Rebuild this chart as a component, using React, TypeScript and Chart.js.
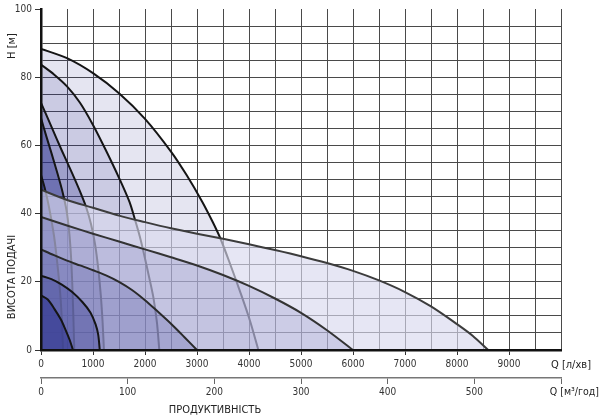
import React, { useEffect, useRef } from 'react';
import { Chart, registerables } from 'chart.js';

Chart.register(...registerables);

// Steep pump curves (Q in l/min, H in m)
const steepA: [number, number][] = [[0, 88.3], [500, 85.6], [1000, 81.2], [1500, 75.3], [2000, 67.8], [2500, 58.2], [2800, 51.3], [3100, 43.5], [3300, 37.6], [3450, 32.7], [3635, 25.3], [3827, 17.2], [4019, 8.6], [4180, 0]];
const steepB: [number, number][] = [[0, 83.7], [250, 80.8], [500, 77.3], [750, 72.5], [1000, 66], [1250, 58.5], [1500, 50.5], [1700, 43.5], [1808, 38.2], [1900, 33.3], [1968, 29], [2070, 22], [2160, 15.5], [2230, 8], [2275, 0]];
const steepC: [number, number][] = [[0, 72.5], [200, 65.5], [400, 58.5], [600, 51.8], [750, 46.5], [870, 41.8], [960, 37], [1040, 31], [1100, 24], [1150, 16], [1185, 8], [1210, 0]];
const steepD: [number, number][] = [[0, 68], [100, 62.8], [200, 57.8], [320, 51.6], [420, 46], [490, 41], [540, 35], [575, 28], [600, 20], [622, 10], [640, 0]];
const steepE: [number, number][] = [[0, 51.3], [70, 47.6], [150, 42.2], [250, 33.5], [320, 24.5], [375, 15.5], [405, 7.5], [423, 0]];

// Flat pump curves
const flatA: [number, number][] = [[0, 47], [500, 44], [1000, 41.7], [1500, 39.4], [2000, 37.5], [2500, 35.7], [3000, 34.1], [3500, 32.6], [4000, 31], [4500, 29.3], [5000, 27.5], [5500, 25.5], [6000, 23.2], [6500, 20.4], [7000, 17], [7500, 12.8], [8000, 7.6], [8300, 4.2], [8600, 0]];
const flatB: [number, number][] = [[0, 39], [500, 36.5], [1000, 34.1], [1500, 31.8], [2000, 29.5], [2500, 27.2], [3000, 24.8], [3500, 22], [4000, 18.8], [4500, 15.1], [5000, 10.9], [5500, 5.8], [6000, 0]];
const flatC: [number, number][] = [[0, 29.5], [250, 27.8], [500, 26.2], [750, 24.8], [1000, 23.4], [1250, 21.9], [1500, 20], [1750, 17.6], [2000, 14.6], [2250, 11.2], [2500, 7.7], [2750, 3.9], [3000, 0]];
const flatD: [number, number][] = [[0, 21.8], [200, 20.8], [400, 19.2], [600, 17], [800, 14], [950, 11], [1050, 7.5], [1100, 4.5], [1130, 0]];
const flatE: [number, number][] = [[0, 16], [130, 14.8], [260, 12], [380, 9], [470, 6], [550, 3], [615, 0]];

// Axis ticks
const yLabelValues = [0, 20, 40, 60, 80, 100];
const qLminLabels = [0, 1000, 2000, 3000, 4000, 5000, 6000, 7000, 8000, 9000];
const qM3hLabels = [0, 100, 200, 300, 400, 500];

const FONT = "'Liberation Sans Narrow', 'DejaVu Sans Condensed', sans-serif";

type Layer = { pts: [number, number][]; fill: string; line: string; width: number };

const layers: Layer[] = [
  { pts: steepA, fill: 'rgba(40,45,140,0.12)', line: '#151515', width: 2 },
  { pts: steepB, fill: 'rgba(40,45,140,0.14)', line: '#151515', width: 2 },
  { pts: steepC, fill: 'rgba(40,45,140,0.27)', line: '#151515', width: 2 },
  { pts: steepD, fill: 'rgba(40,45,140,0.40)', line: '#151515', width: 2 },
  { pts: steepE, fill: 'rgba(40,45,140,0.55)', line: '#151515', width: 2 },
  { pts: flatA, fill: 'rgba(216,216,238,0.65)', line: '#3c3c3c', width: 2 },
  { pts: flatB, fill: 'rgba(40,45,140,0.14)', line: '#333333', width: 2 },
  { pts: flatC, fill: 'rgba(40,45,140,0.20)', line: '#2a2a2a', width: 2 },
  { pts: flatD, fill: 'rgba(40,45,140,0.30)', line: '#151515', width: 2 },
  { pts: flatE, fill: 'rgba(40,45,140,0.50)', line: '#151515', width: 2 },
];

const textPlugin = {
  id: 'axisTexts',
  afterDraw(chart: any) {
    const c = chart.ctx;
    c.save();
    c.fillStyle = '#222';
    c.font = `11px ${FONT}`;
    c.textBaseline = 'middle';
    c.save();
    c.translate(12, 46);
    c.rotate(-Math.PI / 2);
    c.textAlign = 'center';
    c.fillText('H [м]', 0, 0);
    c.restore();
    c.save();
    c.translate(12, 277);
    c.rotate(-Math.PI / 2);
    c.textAlign = 'center';
    c.fillText('ВИСОТА ПОДАЧІ', 0, 0);
    c.restore();
    c.textAlign = 'right';
    c.fillText('Q [л/хв]', 591, 365);
    c.font = `10.5px ${FONT}`;
    c.fillText('Q [м³/год]', 599, 392);
    c.font = `11px ${FONT}`;
    c.textAlign = 'center';
    c.fillText('ПРОДУКТИВНІСТЬ', 215, 410);
    c.restore();
  },
};

export default function App() {
  const ref = useRef<HTMLCanvasElement>(null);
  useEffect(() => {
    document.body.style.margin = '0';
    const canvas = ref.current!;
    const datasets = layers.map((l, i) => ({
      data: l.pts.map(([x, y]) => ({ x, y })),
      fill: 'origin',
      backgroundColor: l.fill,
      borderColor: l.line,
      borderWidth: l.width,
      borderJoinStyle: 'round',
      pointRadius: 0,
      tension: 0.3,
      order: 100 - i,
    }));
    const chart = new Chart(canvas, {
      type: 'line',
      data: { datasets } as any,
      plugins: [textPlugin],
      options: {
        animation: false,
        responsive: false,
        devicePixelRatio: 1,
        layout: { padding: { top: 5, right: 39, left: 0, bottom: 0 } },
        plugins: { legend: { display: false }, tooltip: { enabled: false } },
        scales: {
          x: {
            type: 'linear',
            position: 'bottom',
            weight: 0,
            min: 0,
            max: 10000,
            afterFit: (s: any) => { s.height = 28; },
            afterBuildTicks: (s: any) => {
              const t = [];
              for (let v = 0; v <= 10000; v += 500) t.push({ value: v });
              s.ticks = t;
            },
            ticks: {
              autoSkip: false,
              maxRotation: 0,
              padding: 3,
              color: '#333',
              font: { family: FONT, size: 10 },
              callback: (v: any) => (qLminLabels.includes(Number(v)) ? String(v) : ''),
            },
            grid: {
              color: '#4a4a4a',
              lineWidth: 1,
              tickLength: 5,
              tickColor: (ctx: any) => (ctx.tick && qLminLabels.includes(ctx.tick.value) ? '#333' : 'rgba(0,0,0,0)'),
            },
            border: { display: true, color: '#111', width: 2.5, z: 1 },
          },
          x2: {
            type: 'linear',
            position: 'bottom',
            weight: 1,
            min: 0,
            max: 600,
            afterFit: (s: any) => { s.height = 40; },
            afterBuildTicks: (s: any) => {
              const t = [];
              for (let v = 0; v <= 600; v += 100) t.push({ value: v });
              s.ticks = t;
            },
            ticks: {
              autoSkip: false,
              maxRotation: 0,
              padding: 2,
              color: '#333',
              font: { family: FONT, size: 10 },
              callback: (v: any) => (qM3hLabels.includes(Number(v)) ? String(v) : ''),
            },
            grid: { drawOnChartArea: false, tickLength: 6, color: '#666', tickColor: '#666' },
            border: { display: true, color: '#777', width: 1.5 },
          },
          y: {
            type: 'linear',
            min: 0,
            max: 100,
            afterFit: (s: any) => { s.width = 41; },
            afterBuildTicks: (s: any) => {
              const t = [];
              for (let v = 0; v <= 100; v += 5) t.push({ value: v });
              s.ticks = t;
            },
            ticks: {
              autoSkip: false,
              padding: 3,
              color: '#333',
              font: { family: FONT, size: 10 },
              callback: (v: any) => (yLabelValues.includes(Number(v)) ? String(v) : ''),
            },
            grid: {
              color: (ctx: any) => (ctx.tick && ctx.tick.value === 100 ? 'rgba(0,0,0,0)' : '#4a4a4a'),
              lineWidth: 1,
              tickLength: 6,
              tickColor: (ctx: any) => (ctx.tick && yLabelValues.includes(ctx.tick.value) ? '#333' : 'rgba(0,0,0,0)'),
            },
            border: { display: true, color: '#111', width: 2.5, z: 1 },
          },
        },
      } as any,
    });
    return () => chart.destroy();
  }, []);
  return <canvas ref={ref} width={600} height={418} style={{ display: 'block', width: 600, height: 418 }} />;
}
